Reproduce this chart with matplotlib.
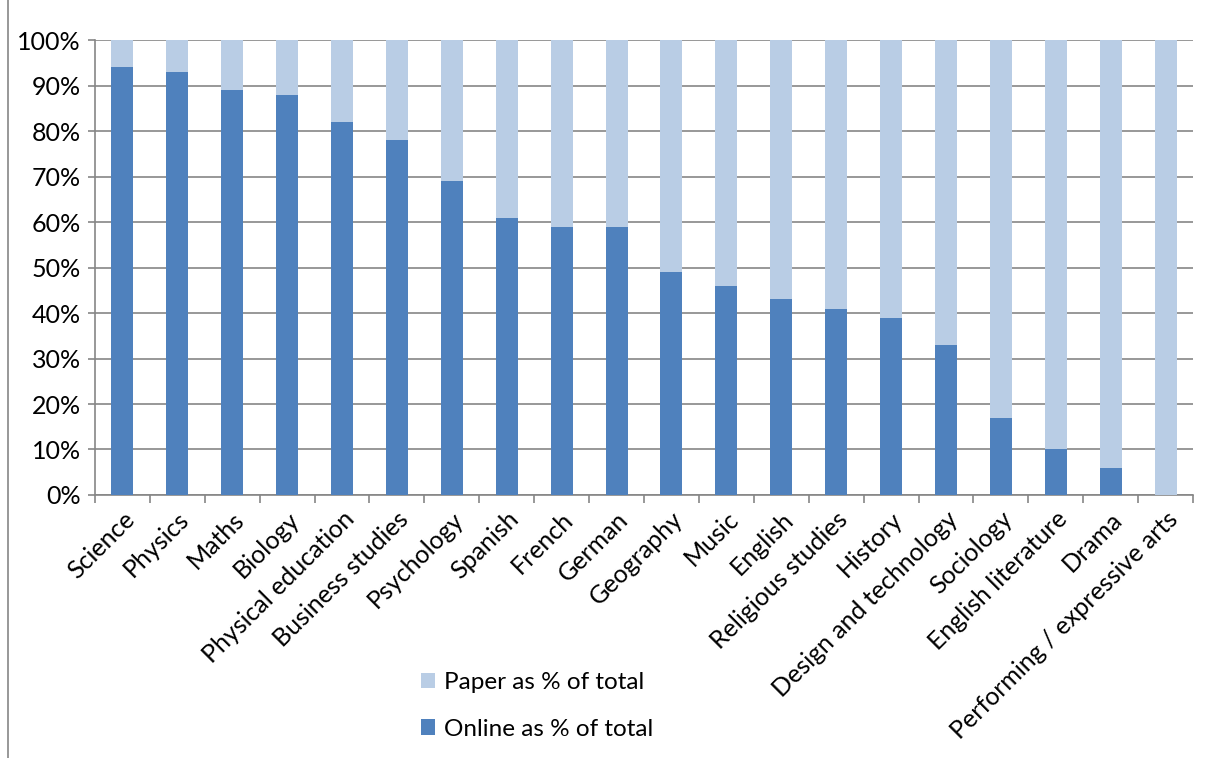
import numpy as np
import matplotlib.pyplot as plt
from matplotlib.patches import Rectangle
from matplotlib.ticker import PercentFormatter

subjects = ["Science", "Physics", "Maths", "Biology", "Physical education",
            "Business studies", "Psychology", "Spanish", "French", "German",
            "Geography", "Music", "English", "Religious studies", "History",
            "Design and technology", "Sociology", "English literature", "Drama",
            "Performing / expressive arts"]
online = [94, 93, 89, 88, 82, 78, 69, 61, 59, 59, 49, 46, 43, 41, 39, 33, 17, 10, 6, 0]
paper = [100 - v for v in online]

plt.rcParams['font.family'] = ['Lato', 'DejaVu Sans']

fig = plt.figure(figsize=(12.08, 7.58), dpi=100)
ax = fig.add_axes([0.0786, 0.347, 0.909, 0.6])

x = np.arange(len(subjects))
b1 = ax.bar(x, online, width=0.4, color='#4f81bd', zorder=3, label='Online as % of total')
b2 = ax.bar(x, paper, width=0.4, bottom=online, color='#b9cde5', zorder=3, label='Paper as % of total')

ax.set_xlim(-0.5, len(subjects) - 0.5)
ax.set_ylim(0, 100)
ax.set_yticks(range(0, 101, 10))
ax.yaxis.set_major_formatter(PercentFormatter(decimals=0))
ax.yaxis.grid(True, color='#868686', lw=1.2, zorder=0)

ax.set_xticks(x)
ax.set_xticklabels(subjects, rotation=45, ha='right', rotation_mode='anchor')
ax.set_xticks(np.arange(-0.5, len(subjects)), minor=True)
ax.tick_params(axis='x', which='major', length=0, pad=9, labelsize=18)
ax.tick_params(axis='x', which='minor', length=6, color='#868686', width=1.2)
ax.tick_params(axis='y', length=5, color='#868686', width=1.2, labelsize=18, pad=5)

for s in ['top', 'right']:
    ax.spines[s].set_visible(False)
for s in ['left', 'bottom']:
    ax.spines[s].set_color('#868686')
    ax.spines[s].set_linewidth(1.2)

fig.legend([b2, b1], ['Paper as % of total', 'Online as % of total'],
           loc='upper left', bbox_to_anchor=(0.33, 0.142), frameon=False,
           fontsize=17.5, handlelength=0.6, handleheight=0.6, handletextpad=0.35,
           labelspacing=1.05)

fig.add_artist(Rectangle((0.007, -0.01), 1.0, 1.02, transform=fig.transFigure,
                         fill=False, edgecolor='#868686', lw=1.2))

fig.savefig('out.png', dpi=100)
